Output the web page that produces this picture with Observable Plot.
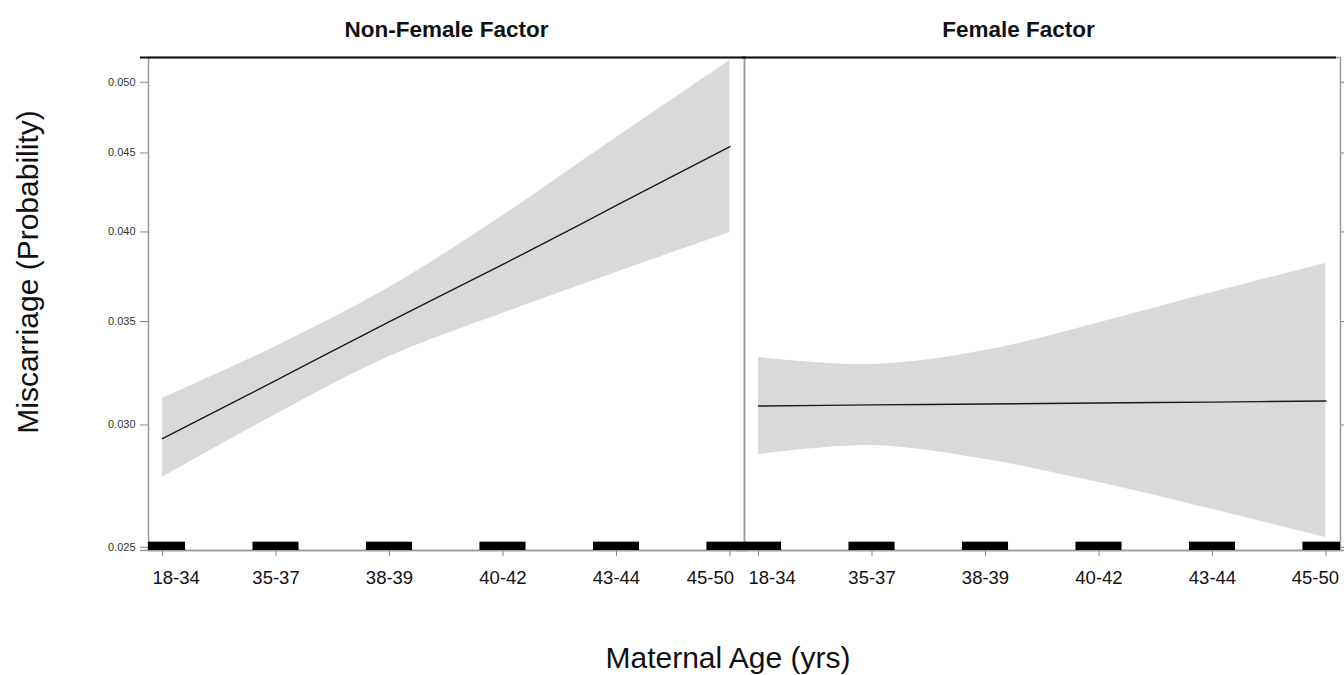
<!DOCTYPE html>
<html><head><meta charset="utf-8">
<script src="https://cdn.jsdelivr.net/npm/d3@7"></script>
<script src="https://cdn.jsdelivr.net/npm/@observablehq/plot@0.6"></script>
<style>body{margin:0;background:#fff} svg{display:block}</style>
</head><body><div id="chart"></div>
<script>
const panels = ["Non-Female Factor", "Female Factor"];
const ageGroups = ["18-34", "35-37", "38-39", "40-42", "43-44", "45-50"];
const nonFemaleFit  = [0.02939, 0.03206, 0.03500, 0.03811, 0.04161, 0.04543];
const nonFemaleLow  = [0.02774, 0.03047, 0.03322, 0.03543, 0.03766, 0.03997];
const nonFemaleHigh = [0.03121, 0.03372, 0.03683, 0.04099, 0.04604, 0.05165];
const femaleFit  = [0.03086, 0.03091, 0.03095, 0.03100, 0.03104, 0.03109];
const femaleLow  = [0.02870, 0.02909, 0.02849, 0.02753, 0.02645, 0.02537];
const femaleHigh = [0.03317, 0.03283, 0.03352, 0.03494, 0.03655, 0.03817];
const yTicks = [0.025, 0.030, 0.035, 0.040, 0.045, 0.050];
const yDomain = [0.02488, 0.05188];
const xDomain = [0.8765, 6.128];
const yLabel = "Miscarriage (Probability)";
const xLabel = "Maternal Age (yrs)";

const series = [
  {fit: nonFemaleFit, lo: nonFemaleLow, hi: nonFemaleHigh},
  {fit: femaleFit, lo: femaleLow, hi: femaleHigh}
];
const rows = [];
panels.forEach((p, pi) => ageGroups.forEach((g, i) => rows.push({
  panel: p, age: i + 1, group: g,
  fit: series[pi].fit[i], lo: series[pi].lo[i], hi: series[pi].hi[i]
})));

const font = "'Liberation Sans', Arial, Helvetica, sans-serif";
const ageIdx = ageGroups.map((g, i) => i + 1);
const last = ageGroups.length;
const tickLabel = {fx: "panel", x: "age", text: "group", frameAnchor: "bottom", lineAnchor: "top",
  dy: 20, fontSize: 18.5, fill: "#111"};
const topLine = {fx: "panel", y: () => yDomain[1], stroke: "#111", strokeWidth: 2};

const svg = Plot.plot({
  width: 1344, height: 675,
  marginTop: 57, marginBottom: 125, marginLeft: 148, marginRight: 4,
  style: {fontFamily: font, background: "white", color: "#111"},
  fx: {domain: panels, padding: 0, axis: null, label: null},
  x: {domain: xDomain, axis: null},
  y: {type: "log", domain: yDomain, axis: null},
  marks: [
    Plot.areaY(rows, {fx: "panel", x: "age", y1: "lo", y2: "hi", fill: "#d9d9d9", curve: "catmull-rom"}),
    Plot.lineY(rows, {fx: "panel", x: "age", y: "fit", stroke: "#1a1a1a", strokeWidth: 1.4, curve: "catmull-rom"}),
    Plot.frame({stroke: "#9a9a9a", strokeWidth: 1.5}),
    Plot.ruleY([yDomain[0]], {stroke: "#9a9a9a", strokeWidth: 1.5, insetLeft: -8, insetRight: -4}),
    Plot.ruleY(rows.filter(d => d.age === 1 && d.panel === panels[0]), {...topLine, insetLeft: -8, insetRight: -2}),
    Plot.ruleY(rows.filter(d => d.age === 1 && d.panel === panels[1]), {...topLine, insetLeft: -2, insetRight: 4}),
    Plot.rect(rows, {fx: "panel", x1: d => d.age - 0.203, x2: d => d.age + 0.203,
      y1: yDomain[0], y2: yDomain[0] * 1.0125, fill: "black", clip: true}),
    Plot.axisX({ticks: ageIdx, tickFormat: () => "", tickSize: 6, stroke: "#888", label: null}),
    Plot.text(rows.filter(d => d.age > 1 && d.age < last), {...tickLabel, textAnchor: "middle"}),
    Plot.text(rows.filter(d => d.age === 1), {...tickLabel, textAnchor: "start", dx: -10}),
    Plot.text(rows.filter(d => d.age === last && d.panel === panels[0]), {...tickLabel, textAnchor: "end", dx: 4}),
    Plot.text(rows.filter(d => d.age === last && d.panel === panels[1]), {...tickLabel, textAnchor: "end", dx: 13}),
    Plot.axisY({ticks: yTicks, tickFormat: d3.format(".3f"), tickSize: 8, tickPadding: 5,
      fontSize: 11, stroke: "#888", fill: "#333", label: null}),
    Plot.axisY({anchor: "right", ticks: yTicks, tickFormat: () => "", tickSize: 5, stroke: "#888", label: null}),
    Plot.axisFx({anchor: "top", ticks: [panels[0]], tickSize: 0, tickPadding: 21, fontSize: 22.5,
      fontWeight: "bold", fill: "#111", label: null}),
    Plot.axisFx({anchor: "top", ticks: [panels[1]], tickSize: 0, tickPadding: 21, fontSize: 22.5,
      fontWeight: "bold", fill: "#111", dx: -24, label: null})
  ]
});

const s = d3.select(svg);
s.append("text")
  .attr("transform", "translate(30,272) rotate(-90)")
  .attr("text-anchor", "middle").attr("dominant-baseline", "middle")
  .attr("font-size", 30).attr("fill", "#111").attr("font-family", font)
  .text(yLabel);
s.append("text")
  .attr("x", 728).attr("y", 668)
  .attr("text-anchor", "middle")
  .attr("font-size", 30).attr("fill", "#111").attr("font-family", font)
  .text(xLabel);

document.getElementById("chart").appendChild(svg);
</script>
</body></html>
